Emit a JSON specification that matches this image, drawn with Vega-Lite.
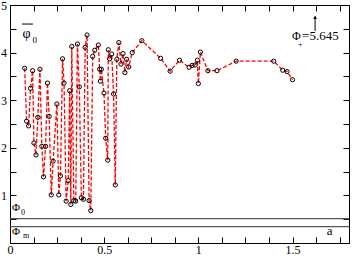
{
  "$schema": "https://vega.github.io/schema/vega-lite/v6.json",
  "width": 339,
  "height": 238,
  "autosize": "none",
  "padding": {"left": 10, "top": 5, "right": 3, "bottom": 13},
  "config": {
    "view": {"stroke": "black", "strokeWidth": 1},
    "axis": {"grid": false, "domain": false, "labelFont": "Liberation Serif", "labelFontSize": 12, "labelColor": "black", "tickColor": "black", "title": null}
  },
  "datasets": {
    "pts": [
      {"x": 0.078, "y": 3.67}, {"x": 0.088, "y": 2.56}, {"x": 0.099, "y": 2.46}, {"x": 0.109, "y": 3.25},
      {"x": 0.12, "y": 3.62}, {"x": 0.127, "y": 2.10}, {"x": 0.138, "y": 1.85}, {"x": 0.148, "y": 2.64},
      {"x": 0.159, "y": 3.65}, {"x": 0.169, "y": 2.03}, {"x": 0.178, "y": 1.39}, {"x": 0.189, "y": 2.03},
      {"x": 0.199, "y": 3.36}, {"x": 0.208, "y": 2.66}, {"x": 0.219, "y": 1.01}, {"x": 0.229, "y": 1.72},
      {"x": 0.249, "y": 2.92}, {"x": 0.259, "y": 1.01}, {"x": 0.268, "y": 1.41}, {"x": 0.279, "y": 3.87},
      {"x": 0.287, "y": 3.36}, {"x": 0.298, "y": 0.88}, {"x": 0.309, "y": 1.31}, {"x": 0.317, "y": 3.20},
      {"x": 0.323, "y": 0.81}, {"x": 0.328, "y": 4.13}, {"x": 0.339, "y": 0.89}, {"x": 0.349, "y": 0.88},
      {"x": 0.358, "y": 4.18}, {"x": 0.368, "y": 3.28}, {"x": 0.379, "y": 0.95}, {"x": 0.39, "y": 0.92},
      {"x": 0.399, "y": 4.11}, {"x": 0.409, "y": 4.37}, {"x": 0.42, "y": 0.89}, {"x": 0.429, "y": 0.68},
      {"x": 0.439, "y": 3.92}, {"x": 0.45, "y": 4.05}, {"x": 0.469, "y": 4.16}, {"x": 0.476, "y": 3.65},
      {"x": 0.48, "y": 3.40}, {"x": 0.485, "y": 3.65}, {"x": 0.499, "y": 3.15}, {"x": 0.508, "y": 2.20},
      {"x": 0.519, "y": 1.74}, {"x": 0.522, "y": 4.06}, {"x": 0.529, "y": 3.87}, {"x": 0.54, "y": 3.97},
      {"x": 0.55, "y": 3.13}, {"x": 0.559, "y": 1.22}, {"x": 0.567, "y": 3.86}, {"x": 0.578, "y": 4.21},
      {"x": 0.589, "y": 3.76}, {"x": 0.6, "y": 3.98}, {"x": 0.61, "y": 3.58}, {"x": 0.619, "y": 3.86},
      {"x": 0.63, "y": 3.70}, {"x": 0.649, "y": 4.0}, {"x": 0.70, "y": 4.25}, {"x": 0.80, "y": 3.88},
      {"x": 0.85, "y": 3.61}, {"x": 0.90, "y": 3.84}, {"x": 0.951, "y": 3.69}, {"x": 0.967, "y": 3.73},
      {"x": 0.983, "y": 3.74}, {"x": 0.995, "y": 3.84}, {"x": 1.0, "y": 3.35}, {"x": 1.011, "y": 4.01},
      {"x": 1.051, "y": 3.62}, {"x": 1.099, "y": 3.62}, {"x": 1.201, "y": 3.82}, {"x": 1.40, "y": 3.82},
      {"x": 1.448, "y": 3.63}, {"x": 1.471, "y": 3.60}, {"x": 1.50, "y": 3.43}
    ],
    "hlines": [{"v": 0.51}, {"v": 0.345}],
    "labels": [
      {"x": 0.0106, "y": 0.663, "t": "Φ", "s": 11},
      {"x": 0.058, "y": 0.579, "t": "0", "s": 8},
      {"x": 0.0106, "y": 0.158, "t": "Φ", "s": 11},
      {"x": 0.069, "y": 0.095, "t": "m", "s": 8},
      {"x": 1.682, "y": 0.158, "t": "a", "s": 13},
      {"x": 0.066, "y": 4.305, "t": "φ", "s": 14},
      {"x": 0.12, "y": 4.2, "t": "0", "s": 9},
      {"x": 1.4976, "y": 4.274, "t": "Φ", "s": 12},
      {"x": 1.5295, "y": 4.125, "t": "+", "s": 8},
      {"x": 1.5507, "y": 4.274, "t": "=5.645", "s": 13}
    ],
    "overline": [{"x": 0.0637, "x2": 0.122, "y": 4.6}],
    "arrow": [{"x": 1.62, "y": 4.453, "y2": 4.76}],
    "arrowhead": [{"x": 1.62, "y": 4.74}]
  },
  "layer": [
    {
      "data": {"name": "hlines"},
      "mark": {"type": "rule", "color": "#555555", "strokeWidth": 1.3},
      "encoding": {
        "y": {"field": "v", "type": "quantitative", "scale": {"domain": [0, 5], "nice": false, "zero": false}, "axis": null}
      }
    },
    {
      "data": {"name": "pts"},
      "mark": {"type": "line", "color": "#ff0000", "strokeWidth": 1.3, "strokeDash": [4, 2]},
      "encoding": {
        "x": {"field": "x", "type": "quantitative", "scale": {"domain": [0, 1.8], "nice": false, "zero": false},
          "axis": {"orient": "bottom", "values": [0, 0.125, 0.25, 0.375, 0.5, 0.625, 0.75, 0.875, 1, 1.125, 1.25, 1.375, 1.5, 1.625, 1.75],
            "tickSize": -6, "labelPadding": 7, "labelExpr": "datum.value % 0.5 ? '' : format(datum.value, '~g')", "labelOverlap": false, "labelFlush": false,
            "encode": {"ticks": {"update": {"y2": {"signal": "datum.value % 0.5 ? -3 : -6"}}}}}},
        "y": {"field": "y", "type": "quantitative", "scale": {"domain": [0, 5], "nice": false, "zero": false},
          "axis": {"orient": "left", "values": [0, 0.5, 1, 1.5, 2, 2.5, 3, 3.5, 4, 4.5, 5],
            "tickSize": -6, "labelPadding": 9.5, "labelExpr": "(datum.value % 1 || datum.value == 0) ? '' : format(datum.value, '~g')", "labelOverlap": false, "labelFlush": false,
            "encode": {"ticks": {"update": {"x2": {"signal": "datum.value % 1 ? 3 : 6"}}}}}}
      }
    },
    {
      "data": {"name": "pts"},
      "mark": {"type": "point", "shape": "circle", "filled": false, "stroke": "black", "strokeWidth": 1, "size": 18, "opacity": 1},
      "encoding": {
        "x": {"field": "x", "type": "quantitative",
          "axis": {"orient": "top", "values": [0, 0.125, 0.25, 0.375, 0.5, 0.625, 0.75, 0.875, 1, 1.125, 1.25, 1.375, 1.5, 1.625, 1.75],
            "tickSize": -6, "labels": false,
            "encode": {"ticks": {"update": {"y2": {"signal": "datum.value % 0.5 ? 3 : 6"}}}}}},
        "y": {"field": "y", "type": "quantitative",
          "axis": {"orient": "right", "values": [0, 0.5, 1, 1.5, 2, 2.5, 3, 3.5, 4, 4.5, 5],
            "tickSize": -6, "labels": false,
            "encode": {"ticks": {"update": {"x2": {"signal": "datum.value % 1 ? -3 : -6"}}}}}}
      }
    },
    {
      "data": {"name": "labels"},
      "mark": {"type": "text", "font": "Liberation Serif", "align": "left", "baseline": "alphabetic", "fill": "black", "color": "black"},
      "encoding": {
        "x": {"field": "x", "type": "quantitative", "axis": null},
        "y": {"field": "y", "type": "quantitative", "axis": null},
        "text": {"field": "t"},
        "size": {"field": "s", "type": "quantitative", "scale": null}
      }
    },
    {
      "data": {"name": "overline"},
      "mark": {"type": "rule", "color": "black", "strokeWidth": 1},
      "encoding": {
        "x": {"field": "x", "type": "quantitative", "axis": null},
        "x2": {"field": "x2"},
        "y": {"field": "y", "type": "quantitative", "axis": null}
      }
    },
    {
      "data": {"name": "arrow"},
      "mark": {"type": "rule", "color": "black", "strokeWidth": 1},
      "encoding": {
        "x": {"field": "x", "type": "quantitative", "axis": null},
        "y": {"field": "y", "type": "quantitative", "axis": null},
        "y2": {"field": "y2"}
      }
    },
    {
      "data": {"name": "arrowhead"},
      "mark": {"type": "point", "shape": "triangle-up", "filled": true, "color": "black", "size": 14, "opacity": 1},
      "encoding": {
        "x": {"field": "x", "type": "quantitative", "axis": null},
        "y": {"field": "y", "type": "quantitative", "axis": null}
      }
    }
  ],
  "resolve": {"axis": {"x": "independent", "y": "independent"}}
}
